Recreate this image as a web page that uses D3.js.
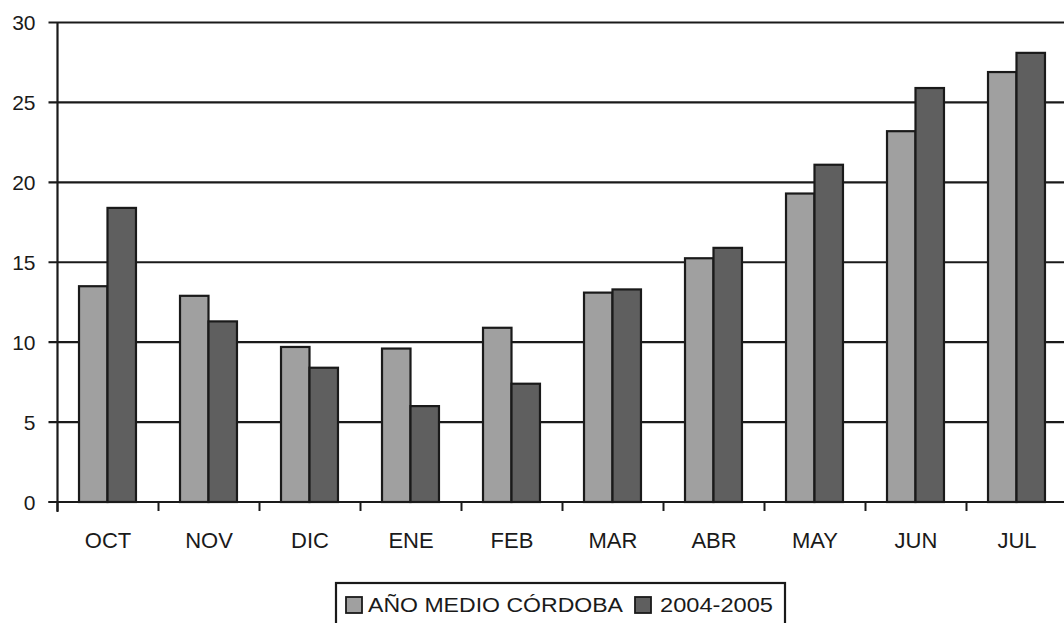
<!DOCTYPE html>
<html><head><meta charset="utf-8">
<script src="https://cdn.jsdelivr.net/npm/d3@7"></script>
<style>body{margin:0;background:#fff;} svg{display:block;font-family:"Liberation Sans",Arial,sans-serif;}</style>
</head><body>
<svg id="c" width="1064" height="623"></svg>
<script>
const months = ["OCT","NOV","DIC","ENE","FEB","MAR","ABR","MAY","JUN","JUL"];
const seriesNames = ["AÑO MEDIO CÓRDOBA","2004-2005"];
const medio = [13.5,12.9,9.7,9.6,10.9,13.1,15.25,19.3,23.2,26.9];
const y0405 = [18.4,11.3,8.4,6.0,7.4,13.3,15.9,21.1,25.9,28.1];
const yTicks = [0,5,10,15,20,25,30];
const colors = ["#a0a0a0","#5f5f5f"];

(function(){
const svg = d3.select("#c");
const pLeft = 57.5, pRight = 1067.5, pTop = 22.5, pBottom = 502;
const x = d3.scaleBand().domain(months).range([pLeft,pRight]).paddingInner(0).paddingOuter(0);
const y = d3.scaleLinear().domain([0,30]).range([pBottom,pTop]);
const inner = d3.scaleBand().domain([0,1]).range([x.bandwidth()*0.213, x.bandwidth()*0.777]).padding(0);

svg.append("g").selectAll("line").data(yTicks).join("line")
  .attr("x1",pLeft-9).attr("x2",1064).attr("y1",d=>y(d)).attr("y2",d=>y(d))
  .attr("stroke","#1a1a1a").attr("stroke-width",2.2);
svg.append("g").selectAll("text").data(yTicks).join("text")
  .attr("x",35.5).attr("y",d=>y(d)+7.5).attr("text-anchor","end")
  .attr("font-size",21).attr("fill","#1a1a1a").text(d=>d);

const data = months.map((m,i)=>({m, v:[medio[i], y0405[i]]}));
const g = svg.append("g");
data.forEach(d=>{
  d.v.forEach((v,k)=>{
    g.append("rect")
      .attr("x", x(d.m)+inner(k)).attr("width", inner.bandwidth())
      .attr("y", y(v)).attr("height", pBottom - y(v))
      .attr("fill", colors[k]).attr("stroke","#1a1a1a").attr("stroke-width",2.2);
  });
});
svg.append("line").attr("x1",pLeft).attr("x2",pLeft).attr("y1",pTop).attr("y2",pBottom+10)
  .attr("stroke","#1a1a1a").attr("stroke-width",2.2);
svg.append("line").attr("x1",pLeft-9).attr("x2",1064).attr("y1",pBottom).attr("y2",pBottom)
  .attr("stroke","#1a1a1a").attr("stroke-width",2.2);
svg.append("g").selectAll("line").data(months).join("line")
  .attr("x1",d=>x(d)).attr("x2",d=>x(d)).attr("y1",pBottom).attr("y2",pBottom+9)
  .attr("stroke","#1a1a1a").attr("stroke-width",2);
svg.append("g").selectAll("text").data(months).join("text")
  .attr("x",d=>x(d)+x.bandwidth()/2).attr("y",547.5).attr("text-anchor","middle")
  .attr("font-size",22).attr("fill","#1a1a1a").text(d=>d);

const lg = svg.append("g");
lg.append("rect").attr("x",336).attr("y",583).attr("width",449).attr("height",60)
  .attr("fill","#fff").attr("stroke","#1a1a1a").attr("stroke-width",2.2);
const legX = [346, 635];
const textX = [368, 660];
const textW = [255, 113];
seriesNames.forEach((n,k)=>{
  lg.append("rect").attr("x",legX[k]).attr("y",597).attr("width",16).attr("height",16)
    .attr("fill",colors[k]).attr("stroke","#1a1a1a").attr("stroke-width",1.8);
  lg.append("text").attr("x",textX[k]).attr("y",612).attr("font-size",20.5)
    .attr("textLength",textW[k]).attr("lengthAdjust","spacingAndGlyphs")
    .attr("fill","#1a1a1a").text(n);
});
})();
</script>
</body></html>
